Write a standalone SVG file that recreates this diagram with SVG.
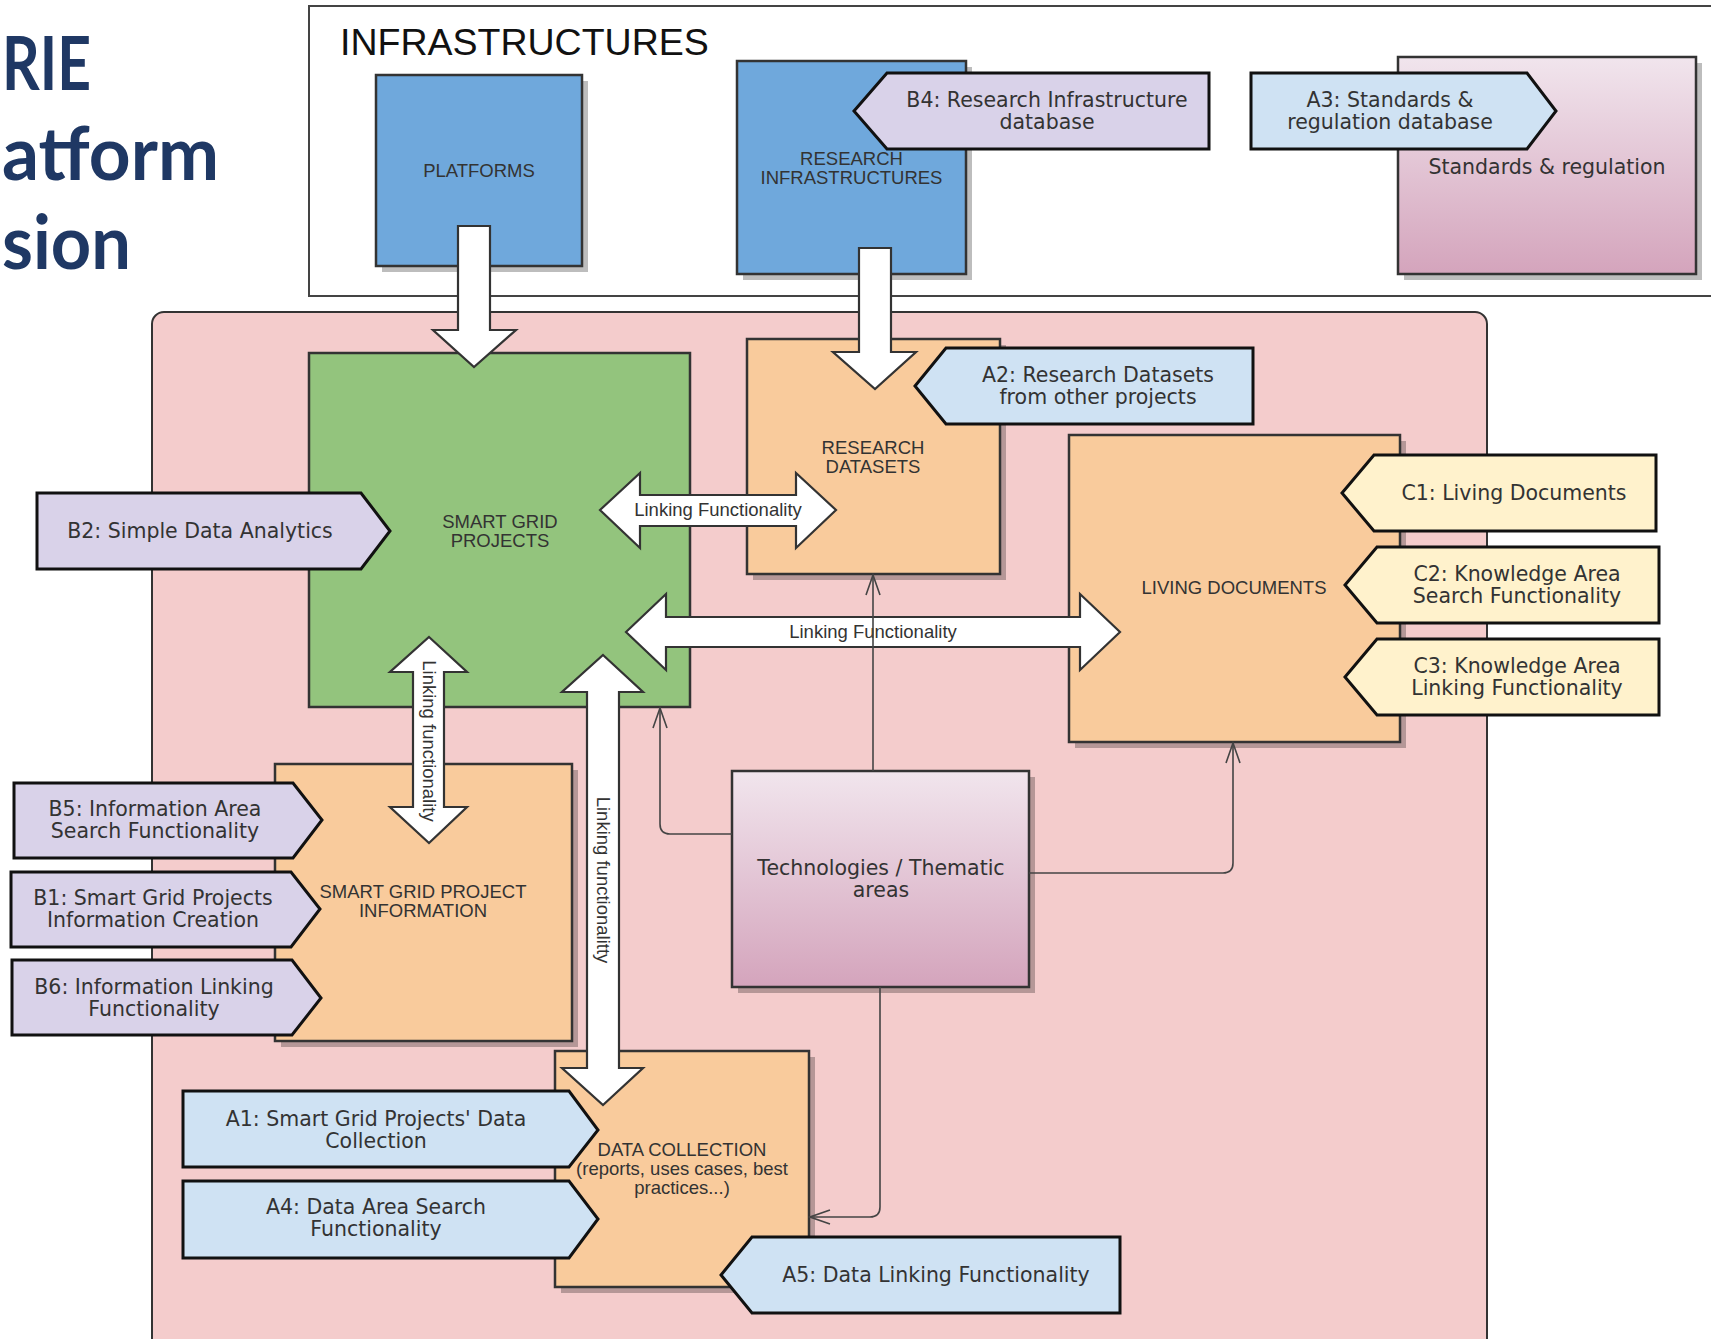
<svg xmlns="http://www.w3.org/2000/svg" width="1711" height="1339" viewBox="0 0 1711 1339">
<defs>
<style>
.box{stroke:#333;stroke-width:2.5}
.sh{fill:#000;opacity:.26}
.blue{fill:#6fa8dc}
.green{fill:#93c47d}
.orange{fill:#f9cb9c}
.pent{stroke:#111;stroke-width:3}
.lav{fill:#d9d2e9}
.lblue{fill:#cfe2f3}
.yel{fill:#fff2cc}
.lbl{font-family:"Liberation Sans",Arial,sans-serif;font-size:18.5px;fill:#333;text-anchor:middle}
.pt{font-family:"DejaVu Sans",Verdana,sans-serif;font-size:20.5px;fill:#333;text-anchor:middle}
.big{fill:#fff;stroke:#333;stroke-width:2.2}
.thin{fill:none;stroke:#444;stroke-width:1.6}
.title{font-family:Lato,"Open Sans",sans-serif;font-weight:bold;font-size:74px;fill:#1f3864}
</style>
<linearGradient id="grad" x1="0" y1="0" x2="0" y2="1">
<stop offset="0" stop-color="#f1e5ed"/>
<stop offset="1" stop-color="#d4a4bc"/>
</linearGradient>
<marker id="open" markerUnits="userSpaceOnUse" markerWidth="24" markerHeight="18" viewBox="-22 -9 24 18" refX="0" refY="0" orient="auto">
<path d="M-20,-7 L0,0 L-20,7" fill="none" stroke="#444" stroke-width="1.6"/>
</marker>
</defs>
<rect width="1711" height="1339" fill="#fff"/>

<g id="title">
<text class="title" x="2" y="90" textLength="89" lengthAdjust="spacingAndGlyphs">RIE</text>
<text class="title" x="2" y="180" textLength="217" lengthAdjust="spacingAndGlyphs">atform</text>
<text class="title" x="2" y="269" textLength="129" lengthAdjust="spacingAndGlyphs">sion</text>
</g>

<g id="infrastructures">
<rect x="309" y="6" width="1420" height="290" fill="#fff" stroke="#444" stroke-width="2"/>
<text x="340" y="55" font-family="Liberation Sans, Arial, sans-serif" font-size="37.5" fill="#111">INFRASTRUCTURES</text>
</g>

<g id="main-area">
<rect x="152" y="312" width="1335" height="1040" rx="12" fill="#f4cccc" stroke="#333" stroke-width="2"/>
</g>

<g id="platforms">
<rect class="sh" x="382" y="81" width="206" height="191"/>
<rect class="box blue" x="376" y="75" width="206" height="191"/>
<text class="lbl" x="479" y="177">PLATFORMS</text>
</g>

<g id="research-infrastructures">
<rect class="sh" x="743" y="67" width="229" height="213"/>
<rect class="box blue" x="737" y="61" width="229" height="213"/>
<text class="lbl" x="851.5" y="165">RESEARCH</text>
<text class="lbl" x="851.5" y="184">INFRASTRUCTURES</text>
</g>

<g id="b4">
<polygon class="pent lav" points="887,73 1209,73 1209,149 887,149 854,111"/>
<text class="pt" x="1047" y="107">B4: Research Infrastructure</text>
<text class="pt" x="1047" y="129">database</text>
</g>

<g id="standards-regulation">
<rect class="sh" x="1404" y="63" width="298" height="217"/>
<rect class="box" x="1398" y="57" width="298" height="217" fill="url(#grad)"/>
<text class="pt" x="1547" y="174">Standards &amp; regulation</text>
</g>

<g id="a3">
<polygon class="pent lblue" points="1251,73 1527,73 1556,111 1527,149 1251,149"/>
<text class="pt" x="1390" y="107">A3: Standards &amp;</text>
<text class="pt" x="1390" y="129">regulation database</text>
</g>

<g id="smart-grid-projects">
<rect class="box green" x="309" y="353" width="381" height="354"/>
<text class="lbl" x="500" y="528">SMART GRID</text>
<text class="lbl" x="500" y="547">PROJECTS</text>
</g>

<g id="research-datasets">
<rect class="sh" x="753" y="345" width="253" height="235"/>
<rect class="box orange" x="747" y="339" width="253" height="235"/>
<text class="lbl" x="873" y="454">RESEARCH</text>
<text class="lbl" x="873" y="473">DATASETS</text>
</g>

<g id="a2">
<polygon class="pent lblue" points="946,348 1253,348 1253,424 946,424 915,386"/>
<text class="pt" x="1098" y="382">A2: Research Datasets</text>
<text class="pt" x="1098" y="404">from other projects</text>
</g>

<g id="living-documents">
<rect class="sh" x="1075" y="441" width="331" height="307"/>
<rect class="box orange" x="1069" y="435" width="331" height="307"/>
<text class="lbl" x="1234" y="594">LIVING DOCUMENTS</text>
</g>

<g id="c1">
<polygon class="pent yel" points="1374,455 1656,455 1656,531 1374,531 1342,493"/>
<text class="pt" x="1514" y="500">C1: Living Documents</text>
</g>
<g id="c2">
<polygon class="pent yel" points="1377,547 1659,547 1659,623 1377,623 1345,585"/>
<text class="pt" x="1517" y="581">C2: Knowledge Area</text>
<text class="pt" x="1517" y="603">Search Functionality</text>
</g>
<g id="c3">
<polygon class="pent yel" points="1377,639 1659,639 1659,715 1377,715 1345,677"/>
<text class="pt" x="1517" y="673">C3: Knowledge Area</text>
<text class="pt" x="1517" y="695">Linking Functionality</text>
</g>

<g id="b2">
<polygon class="pent lav" points="37,493 361,493 390,531 361,569 37,569"/>
<text class="pt" x="200" y="538">B2: Simple Data Analytics</text>
</g>

<g id="smart-grid-project-information">
<rect class="sh" x="281" y="770" width="297" height="277"/>
<rect class="box orange" x="275" y="764" width="297" height="277"/>
<text class="lbl" x="423" y="898">SMART GRID PROJECT</text>
<text class="lbl" x="423" y="917">INFORMATION</text>
</g>

<g id="b5">
<polygon class="pent lav" points="14,783 293,783 322,820 293,858 14,858"/>
<text class="pt" x="155" y="816">B5: Information Area</text>
<text class="pt" x="155" y="838">Search Functionality</text>
</g>
<g id="b1">
<polygon class="pent lav" points="11,872 291,872 320,909 291,947 11,947"/>
<text class="pt" x="153" y="905">B1: Smart Grid Projects</text>
<text class="pt" x="153" y="927">Information Creation</text>
</g>
<g id="b6">
<polygon class="pent lav" points="12,960 292,960 321,998 292,1035 12,1035"/>
<text class="pt" x="154" y="994">B6: Information Linking</text>
<text class="pt" x="154" y="1016">Functionality</text>
</g>

<g id="technologies">
<rect class="sh" x="738" y="777" width="297" height="216"/>
<rect class="box" x="732" y="771" width="297" height="216" fill="url(#grad)"/>
<text class="pt" x="881" y="875">Technologies / Thematic</text>
<text class="pt" x="881" y="897">areas</text>
</g>

<g id="data-collection">
<rect class="sh" x="561" y="1057" width="254" height="236"/>
<rect class="box orange" x="555" y="1051" width="254" height="236"/>
<text class="lbl" x="682" y="1156">DATA COLLECTION</text>
<text class="lbl" x="682" y="1175">(reports, uses cases, best</text>
<text class="lbl" x="682" y="1194">practices...)</text>
</g>

<g id="a1">
<polygon class="pent lblue" points="183,1091 569,1091 598,1130 569,1167 183,1167"/>
<text class="pt" x="376" y="1126">A1: Smart Grid Projects' Data</text>
<text class="pt" x="376" y="1148">Collection</text>
</g>
<g id="a4">
<polygon class="pent lblue" points="183,1181 569,1181 598,1219 569,1258 183,1258"/>
<text class="pt" x="376" y="1214">A4: Data Area Search</text>
<text class="pt" x="376" y="1236">Functionality</text>
</g>
<g id="a5">
<polygon class="pent lblue" points="752,1237 1120,1237 1120,1313 752,1313 721,1275"/>
<text class="pt" x="936" y="1282">A5: Data Linking Functionality</text>
</g>

<g id="connectors">
<polygon class="big" points="458,226 490,226 490,330 516,330 474,367 433,330 458,330"/>
<polygon class="big" points="859,248 891,248 891,352 916,352 875,389 833,352 859,352"/>
<polygon class="big" points="600,510 640,473 640,495 796,495 796,473 836,510 796,548 796,526 640,526 640,548"/>
<text class="lbl" x="718" y="516">Linking Functionality</text>
<polygon class="big" points="626,632 666,594 666,617 1080,617 1080,594 1120,632 1080,670 1080,647 666,647 666,670"/>
<text class="lbl" x="873" y="638">Linking Functionality</text>
<polygon class="big" points="429,637 467,672 444,672 444,807 467,807 429,843 390,807 413,807 413,672 390,672"/>
<text class="lbl" transform="translate(429,741) rotate(90)" x="0" y="6.5">Linking functionality</text>
<polygon class="big" points="603,655 643,692 619,692 619,1068 643,1068 603,1105 562,1068 587,1068 587,692 562,692"/>
<text class="lbl" transform="translate(603,880) rotate(90)" x="0" y="6.5">Linking functionalitty</text>
<path class="thin" d="M732,834 H670 Q660,834 660,824 V708" marker-end="url(#open)"/>
<path class="thin" d="M873,771 V575" marker-end="url(#open)"/>
<path class="thin" d="M1029,873 H1223 Q1233,873 1233,863 V743" marker-end="url(#open)"/>
<path class="thin" d="M880,987 V1207 Q880,1217 870,1217 H810" marker-end="url(#open)"/>
</g>
</svg>
